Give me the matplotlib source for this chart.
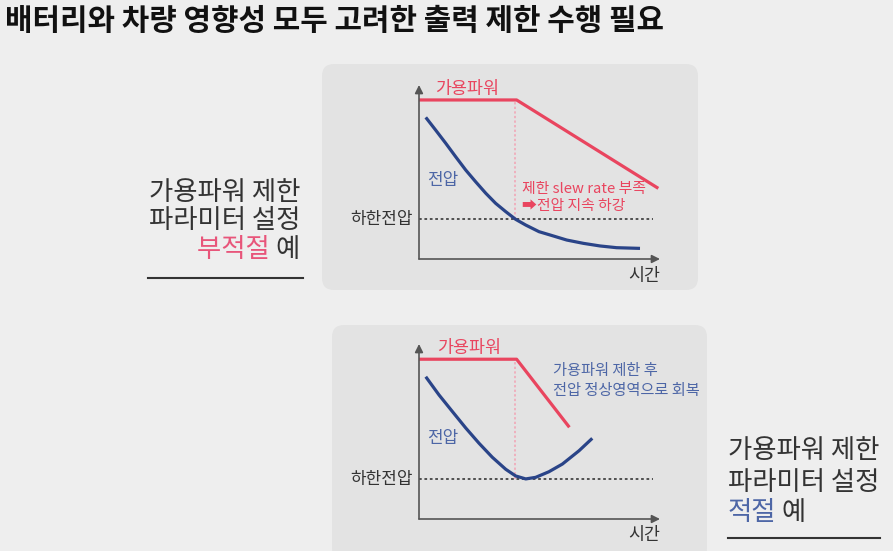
import matplotlib
matplotlib.use('Agg')
import matplotlib.pyplot as plt
from matplotlib.patches import FancyBboxPatch
from matplotlib.lines import Line2D
from matplotlib.text import Annotation
from matplotlib.transforms import IdentityTransform

plt.rcParams['font.family'] = ['Noto Sans CJK KR', 'DejaVu Sans']

# --- data (time and level on a 0..10 scale) ---
title = '배터리와 차량 영향성 모두 고려한 출력 제한 수행 필요'

# bad parameter case (top panel)
power_bad_t = [0, 4.05, 9.93]
power_bad_v = [9.14, 9.14, 4.06]
volt_bad_t = [0.28, 0.69, 1.11, 1.52, 1.94, 2.35, 2.77, 3.18, 3.60, 4.01, 4.43, 4.98,
              5.44, 6.13, 6.82, 7.51, 8.20, 9.17]
volt_bad_v = [8.14, 7.41, 6.65, 5.88, 5.11, 4.44, 3.78, 3.20, 2.72, 2.28, 1.95, 1.57,
              1.38, 1.09, 0.90, 0.75, 0.65, 0.61]
limit_bad = 2.28
cut_bad = 4.0

# good parameter case (bottom panel)
power_ok_t = [0, 4.05, 6.24]
power_ok_v = [9.13, 9.13, 5.24]
volt_ok_t = [0.28, 0.83, 1.38, 1.94, 2.49, 3.04, 3.60, 4.01, 4.43, 4.84, 5.39, 5.95, 6.64, 7.19]
volt_ok_v = [8.13, 7.09, 6.15, 5.20, 4.33, 3.53, 2.84, 2.46, 2.29, 2.38, 2.70, 3.14, 3.90, 4.61]
limit_ok = 2.27
cut_ok = 3.98

limit_label = '하한전압'
time_label = '시간'
power_label = '가용파워'
volt_label = '전압'

W, H = 893, 551
BG = '#eeeeee'
PANEL = '#e3e3e3'
RED = '#e9455f'
PINK_TXT = '#e8557a'
NAVY = '#2a4488'
BLUE_TXT = '#4d66a6'
DARK = '#333333'

fig = plt.figure(figsize=(W / 100, H / 100), dpi=100, facecolor=BG)


def put(x, y, s, **kw):
    # place text using pixel coords measured from the top-left
    kw.setdefault('va', 'center')
    kw.setdefault('color', DARK)
    return fig.text(x / W, 1 - y / H, s, **kw)


def panel(x0, y0, x1, y1):
    box = FancyBboxPatch((x0, H - y1), x1 - x0, y1 - y0,
                         boxstyle='round,pad=0,rounding_size=12',
                         transform=IdentityTransform(), facecolor=PANEL,
                         edgecolor='none', zorder=-5)
    fig.add_artist(box)


def chart(left, right, top, bottom, pt, pv, vt, vv, limit, cut):
    ax = fig.add_axes([left / W, 1 - bottom / H, (right - left) / W, (bottom - top) / H])
    ax.set_xlim(0, 10)
    ax.set_ylim(0, 10)
    ax.axis('off')
    ax.plot([cut, cut], [limit, pv[1]], color='#f2a3b4', lw=1.1, ls=(0, (1.5, 1.5)), clip_on=False)
    ax.plot([0, 9.71], [limit, limit], color='#444444', lw=1.3, ls=(0, (1.5, 1.5)), clip_on=False)
    ax.plot(pt, pv, color=RED, lw=2.3, clip_on=False, solid_capstyle='butt')
    ax.plot(vt, vv, color=NAVY, lw=2.3, clip_on=False, solid_capstyle='butt',
            solid_joinstyle='round')
    arr = dict(arrowstyle='-|>', color='#555555', lw=1.2, shrinkA=0, shrinkB=0, mutation_scale=12)
    ax.annotate('', xy=(10, 0), xytext=(0, 0), arrowprops=arr, annotation_clip=False)
    ax.annotate('', xy=(0, 10), xytext=(0, 0), arrowprops=arr, annotation_clip=False)
    return ax


panel(322, 64, 698, 290)
panel(332, 325, 707, 560)

chart(419, 660, 85, 259, power_bad_t, power_bad_v, volt_bad_t, volt_bad_v, limit_bad, cut_bad)
chart(419, 660, 344, 519, power_ok_t, power_ok_v, volt_ok_t, volt_ok_v, limit_ok, cut_ok)

put(5, 21, title, fontsize=21.5, fontweight='bold', color='#111111')

# top panel labels
put(435, 89, power_label, fontsize=12.5, color=RED)
put(427, 180, volt_label, fontsize=12.2, color=BLUE_TXT)
put(522, 189, '제한 slew rate 부족', fontsize=10.7, color=RED)
put(522, 206, '➡전압 지속 하강', fontsize=10.7, color=RED)
put(413, 219, limit_label, fontsize=12.2, ha='right')
put(660, 276, time_label, fontsize=12.5, ha='right')

# bottom panel labels
put(437, 348, power_label, fontsize=12.5, color=RED)
put(553, 370, '가용파워 제한 후', fontsize=11, color=BLUE_TXT)
put(553, 390, '전압 정상영역으로 회복', fontsize=11, color=BLUE_TXT)
put(427, 438, volt_label, fontsize=12.2, color=BLUE_TXT)
put(413, 479, limit_label, fontsize=12.2, ha='right')
put(660, 535, time_label, fontsize=12.5, ha='right')

# left caption (bad case)
put(300, 192, '가용파워 제한', fontsize=19, ha='right')
put(300, 221, '파라미터 설정', fontsize=19, ha='right')
t = put(300, 250, '예', fontsize=19, ha='right')
fig.add_artist(Annotation('부적절 ', xy=(0, 0), xycoords=t, ha='right', va='bottom',
                          fontsize=19, color=PINK_TXT))
fig.add_artist(Line2D([148 / W, 303 / W], [1 - 278 / H, 1 - 278 / H], color=DARK, lw=1.5))

# right caption (good case)
put(728, 451, '가용파워 제한', fontsize=19)
put(728, 482, '파라미터 설정', fontsize=19)
t = put(728, 513, '적절', fontsize=19, color=BLUE_TXT)
fig.add_artist(Annotation(' 예', xy=(1, 0), xycoords=t, ha='left', va='bottom',
                          fontsize=19, color=DARK))
fig.add_artist(Line2D([728 / W, 880 / W], [1 - 538 / H, 1 - 538 / H], color=DARK, lw=1.5))

fig.savefig('out.png', dpi=100, facecolor=BG)
